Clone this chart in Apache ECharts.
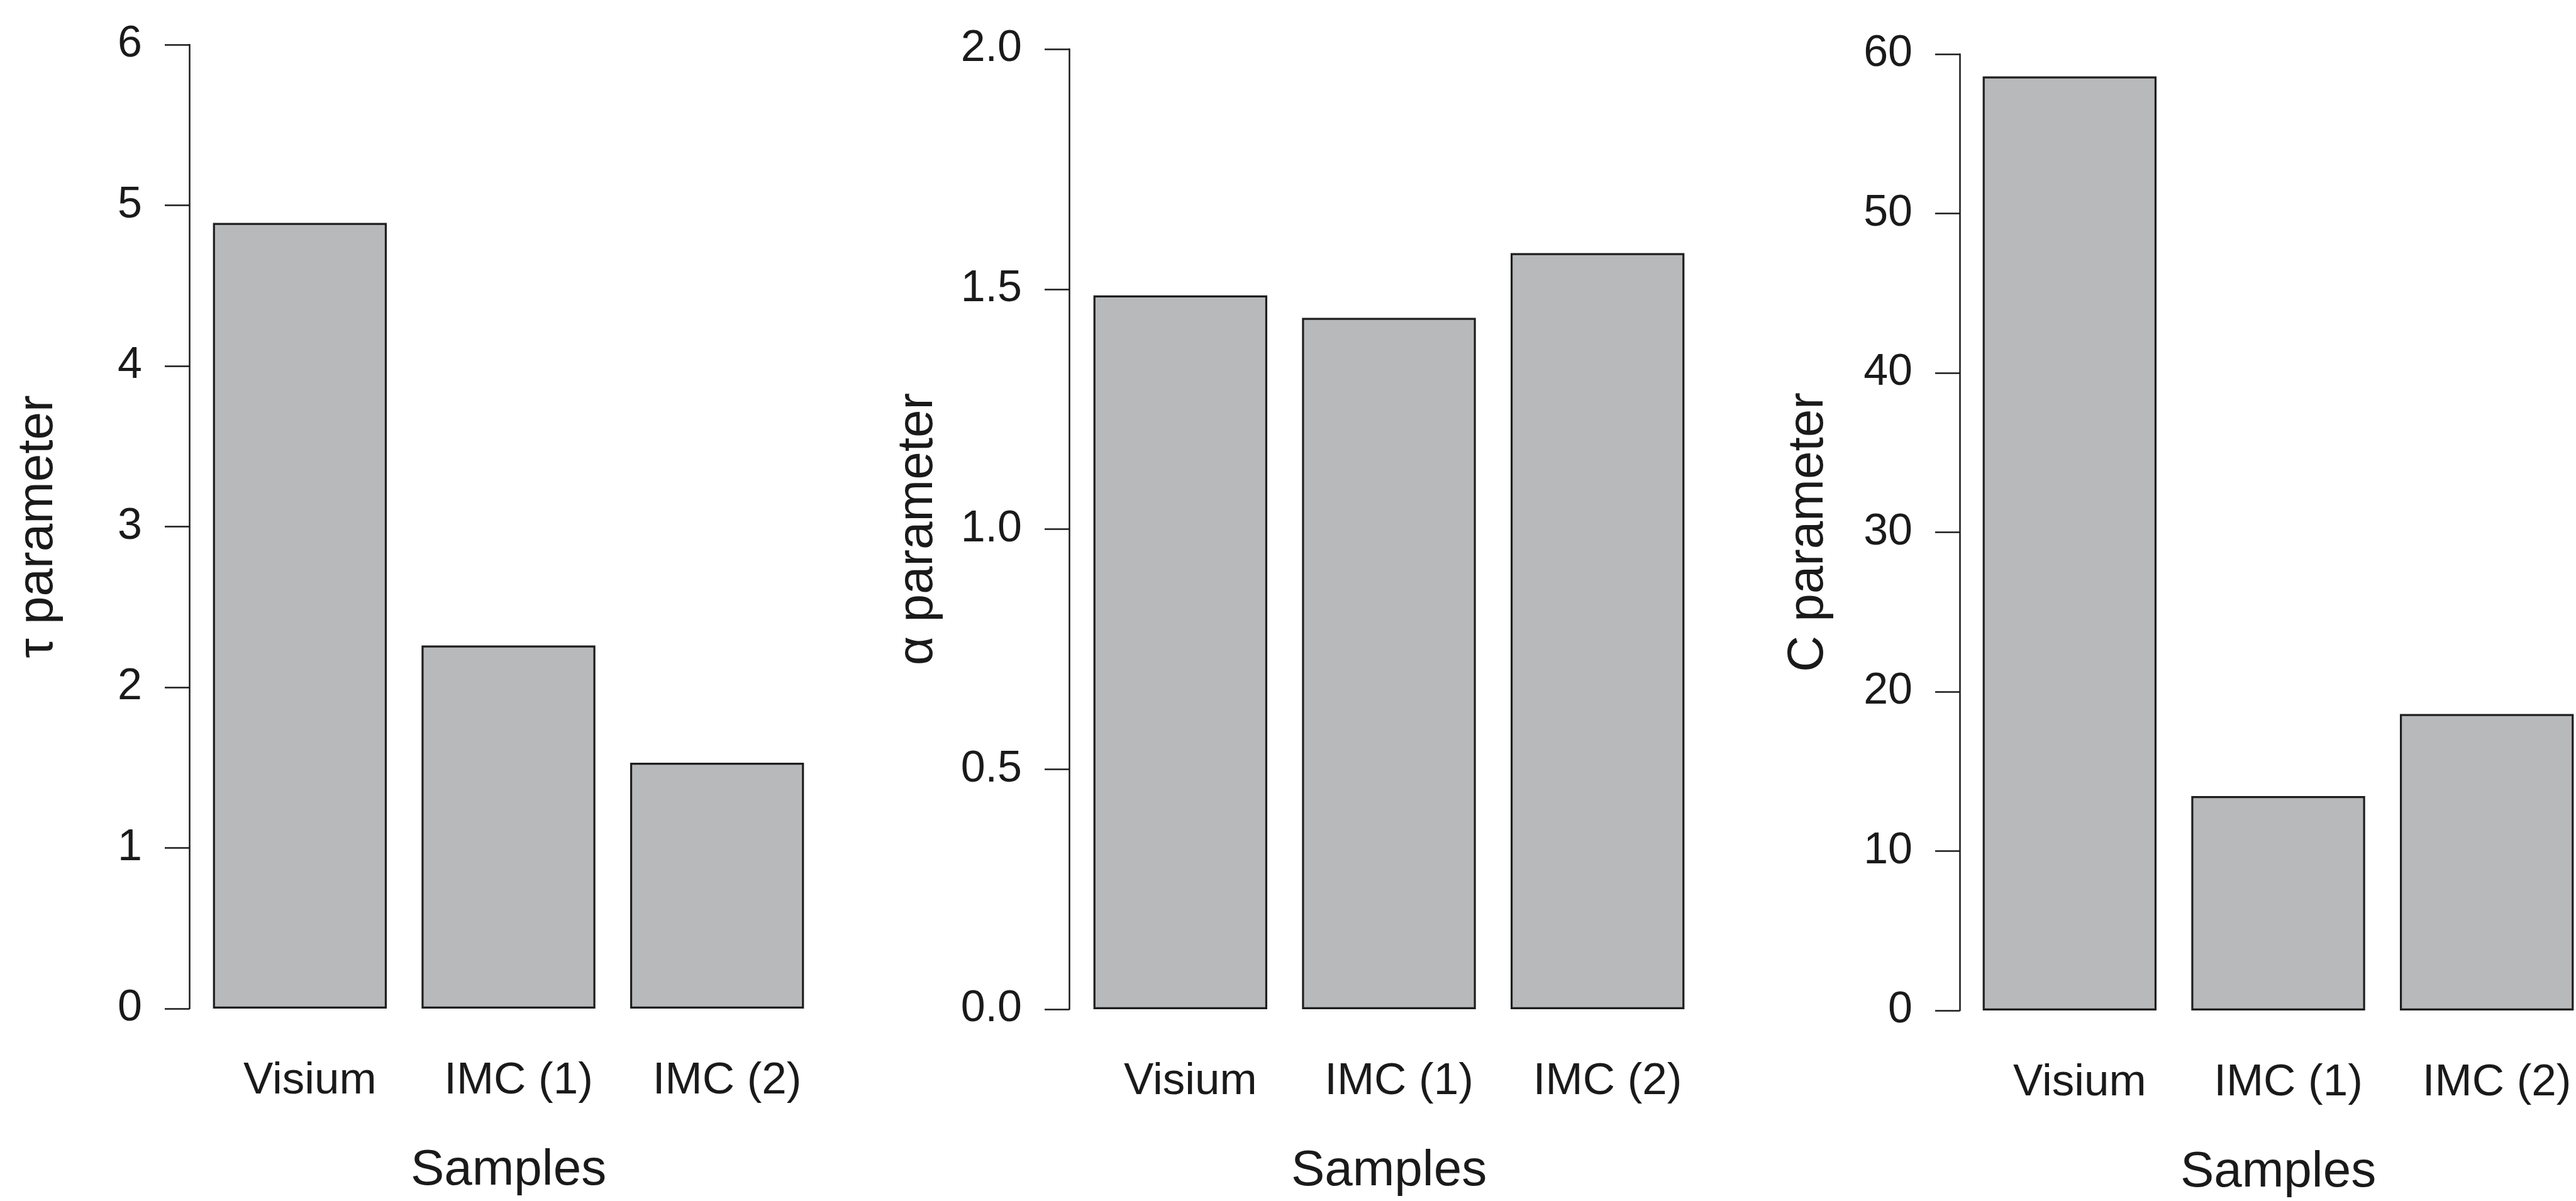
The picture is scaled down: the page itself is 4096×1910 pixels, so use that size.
<!DOCTYPE html>
<html>
<head>
<meta charset="utf-8">
<title>Parameter estimates by sample</title>
<script src="https://cdn.jsdelivr.net/npm/echarts@6/dist/echarts.min.js"></script>
<style>
  html, body { margin: 0; padding: 0; background: #ffffff; }
  #chart { width: 4096px; height: 1910px; }
</style>
</head>
<body>
<div id="chart"></div>
<script>
// Sample names shared by all three panels
const samples = ['Visium', 'IMC (1)', 'IMC (2)'];

// Fitted parameter values per sample
const tauValues = [4.89, 2.26, 1.53];
const alphaValues = [1.487, 1.44, 1.575];
const cValues = [58.6, 13.45, 18.6];

// Y-axis ranges and tick steps
const tauAxis = { min: 0, max: 6, interval: 1 };
const alphaAxis = { min: 0, max: 2, interval: 0.5 };
const cAxis = { min: 0, max: 60, interval: 10 };

const FONT = '"Liberation Sans", Arial, Helvetica, sans-serif';
const INK = '#1a1a1a';
const BAR_FILL = '#b8b9bb';

// Panel geometry (pixels); the third panel runs past the right edge
const panels = [
  { left: 311,  width: 995, top: 71,  bottom: 306, offset: 10, name: 'τ parameter', data: tauValues, axis: tauAxis, decimals: 0 },
  { left: 1711, width: 995, top: 78,  bottom: 305, offset: 11, name: 'α parameter', data: alphaValues, axis: alphaAxis, decimals: 1 },
  { left: 3125, width: 995, top: 86,  bottom: 303, offset: 9,  name: 'C parameter', data: cValues, axis: cAxis, decimals: 0 }
];

const grid = panels.map(p => ({
  left: p.left, width: p.width, top: p.top, bottom: p.bottom,
  containLabel: false,
  outerBoundsMode: 'none'
}));

const xAxis = panels.map((p, i) => ({
  type: 'category',
  gridIndex: i,
  data: samples,
  boundaryGap: true,
  axisLine: { show: false },
  axisTick: { show: false },
  axisLabel: {
    color: INK, fontFamily: FONT, fontSize: 71, margin: 80,
    padding: [0, 0, 0, 32]
  },
  name: 'Samples',
  nameLocation: 'middle',
  nameGap: 218,
  nameTextStyle: { color: INK, fontFamily: FONT, fontSize: 80 }
}));

const yAxis = panels.map((p, i) => ({
  type: 'value',
  gridIndex: i,
  min: p.axis.min,
  max: p.axis.max,
  interval: p.axis.interval,
  offset: p.offset,
  splitLine: { show: false },
  axisLine: { show: true, lineStyle: { color: INK, width: 2.5 } },
  axisTick: { show: true, length: 39, lineStyle: { color: INK, width: 2.5 } },
  axisLabel: {
    color: INK, fontFamily: FONT, fontSize: 70, margin: 75,
    formatter: v => v.toFixed(p.decimals)
  },
  name: p.name,
  nameLocation: 'middle',
  nameRotate: 90,
  nameGap: 200,
  nameTextStyle: { color: INK, fontFamily: FONT, fontSize: 80 }
}));

const series = panels.map((p, i) => ({
  type: 'bar',
  xAxisIndex: i,
  yAxisIndex: i,
  data: p.data,
  barWidth: '83.333%',
  itemStyle: { color: BAR_FILL, borderColor: '#1e1e1e', borderWidth: 3.2 },
  emphasis: { disabled: true },
  silent: true
}));

const chart = echarts.init(document.getElementById('chart'), null, { renderer: 'canvas' });
chart.setOption({
  backgroundColor: '#ffffff',
  animation: false,
  grid, xAxis, yAxis, series
});
</script>
</body>
</html>
